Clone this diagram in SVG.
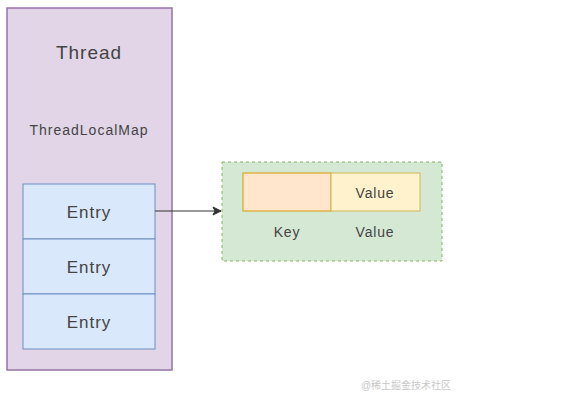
<svg xmlns="http://www.w3.org/2000/svg" width="588" height="404" viewBox="0 0 588 404">
<defs>
<style>
text{font-family:"Liberation Sans","DejaVu Sans",sans-serif;fill:#444444;text-anchor:middle;dominant-baseline:central}
.entry{fill:#dae8fc;stroke:#6c8ebf;stroke-width:1}
.en{font-size:17px;letter-spacing:1px}
.kv{font-size:14px;letter-spacing:0.8px}
</style>
<marker id="arr" markerWidth="10" markerHeight="10" refX="9" refY="5" orient="auto" markerUnits="userSpaceOnUse">
<path d="M1,1 L9,5 L1,9 L3,5 Z" fill="#333" stroke="#333" stroke-width="1"/>
</marker>
</defs>
<rect width="588" height="404" fill="#ffffff"/>
<g id="thread">
<rect x="7" y="8" width="165" height="362" fill="#e1d5e7" stroke="#9673a6" stroke-width="1.5"/>
<text x="89" y="52" font-size="19" letter-spacing="1">Thread</text>
<text x="89" y="130" font-size="14" letter-spacing="1">ThreadLocalMap</text>
</g>
<g id="entry1">
<rect class="entry" x="23" y="184" width="132" height="55"/>
<text class="en" x="89" y="212">Entry</text>
</g>
<g id="entry2">
<rect class="entry" x="23" y="239" width="132" height="55"/>
<text class="en" x="89" y="267">Entry</text>
</g>
<g id="entry3">
<rect class="entry" x="23" y="294" width="132" height="55"/>
<text class="en" x="89" y="322">Entry</text>
</g>
<g id="map-entry">
<rect x="222" y="162" width="220" height="99" fill="#d5e8d4" stroke="#82b366" stroke-width="1" stroke-dasharray="3 3"/>
<rect x="243" y="173" width="88" height="38" fill="#ffe6cc" stroke="#d79b00" stroke-width="1"/>
<rect x="331" y="173" width="89" height="38" fill="#fff2cc" stroke="#d6b656" stroke-width="1"/>
<text class="kv" x="375" y="193">Value</text>
<text class="kv" x="287" y="232">Key</text>
<text class="kv" x="375" y="232">Value</text>
</g>
<g id="connectors">
<line x1="155" y1="211" x2="221" y2="211" stroke="#333" stroke-width="1.2" marker-end="url(#arr)"/>
</g>
<text x="406" y="385" font-size="10" style="fill:#c8c8c8;font-family:'Liberation Sans','Noto Sans CJK SC',sans-serif">@稀土掘金技术社区</text>
</svg>
